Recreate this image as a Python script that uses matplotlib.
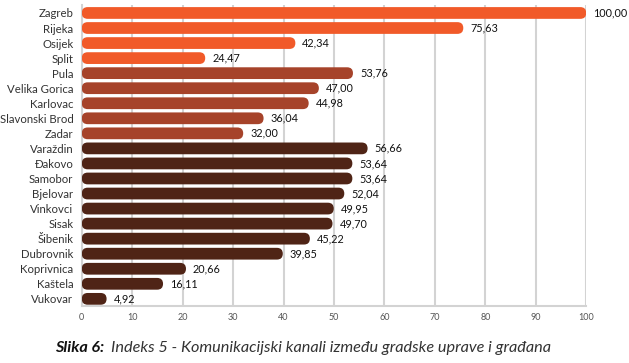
#!/usr/bin/env python3
# -*- coding: utf-8 -*-
"""Indeks 5 - horizontal rounded bar chart."""

import matplotlib
matplotlib.use("Agg")
import matplotlib.pyplot as plt
from matplotlib.patches import FancyBboxPatch

# --- Data ---
cities = ["Zagreb", "Rijeka", "Osijek", "Split",
          "Pula", "Velika Gorica", "Karlovac", "Slavonski Brod", "Zadar",
          "Varaždin", "Đakovo", "Samobor", "Bjelovar", "Vinkovci", "Sisak",
          "Šibenik", "Dubrovnik", "Koprivnica", "Kaštela", "Vukovar"]
values = [100.00, 75.63, 42.34, 24.47,
          53.76, 47.00, 44.98, 36.04, 32.00,
          56.66, 53.64, 53.64, 52.04, 49.95, 49.70,
          45.22, 39.85, 20.66, 16.11, 4.92]
groups = [0] * 4 + [1] * 5 + [2] * 11
group_colors = ["#F15A29", "#A6432A", "#4F2416"]
xticks = list(range(0, 101, 10))

caption_bold = "Slika 6:"
caption_text = "Indeks 5 - Komunikacijski kanali između gradske uprave i građana"

plt.rcParams["font.family"] = ["Lato", "DejaVu Sans"]

fig = plt.figure(figsize=(6.29, 3.63), dpi=100)
ax = fig.add_axes([0.130, 0.156, 0.802, 0.829])

bar_h = 0.78
# pixels per data unit, to keep the rounded ends circular
px_x = 504 / 100.0
px_y = 301 / 20.0
aspect = px_x / px_y
r = (bar_h / 2) / aspect

for i, (v, g) in enumerate(zip(values, groups)):
    rr = min(r, v / 2)
    patch = FancyBboxPatch((0, i - bar_h / 2), v, bar_h,
                           boxstyle=f"round,pad=0,rounding_size={rr}",
                           mutation_aspect=aspect,
                           facecolor=group_colors[g], edgecolor="none", zorder=3)
    ax.add_patch(patch)
    ax.annotate(f"{v:.2f}".replace(".", ","), (v, i), xytext=(5, 0),
                textcoords="offset points", va="center", ha="left",
                fontsize=7.8, color="#111111", zorder=4)

ax.set_xlim(0, 100)
ax.set_ylim(len(cities) - 0.5, -0.5)
ax.set_yticks(range(len(cities)))
ax.set_yticklabels(cities, fontsize=8.2, color="#333333")
ax.set_xticks(xticks)
ax.set_xticklabels([str(t) for t in xticks], fontsize=6.5, color="#555555")
ax.tick_params(axis="both", length=0)
ax.tick_params(axis="y", pad=6)
ax.tick_params(axis="x", pad=5)

ax.grid(True, axis="x", color="#D3D3D3", linewidth=1.5, zorder=0)
ax.set_axisbelow(True)
for side in ["top", "right"]:
    ax.spines[side].set_visible(False)
for side in ["left", "bottom"]:
    ax.spines[side].set_color("#D3D3D3")
    ax.spines[side].set_linewidth(1.5)

# caption
t1 = fig.text(0.088, 0.042, caption_bold, fontsize=11.7, fontweight="bold",
              fontstyle="italic", color="#111111", va="center", ha="left")
fig.canvas.draw()
bb = t1.get_window_extent()
x2 = (bb.x1 + 6) / fig.bbox.width
fig.text(x2, 0.042, caption_text, fontsize=11.7, fontweight="normal",
         fontstyle="italic", color="#333333", va="center", ha="left")

fig.savefig("out.png", dpi=100)
